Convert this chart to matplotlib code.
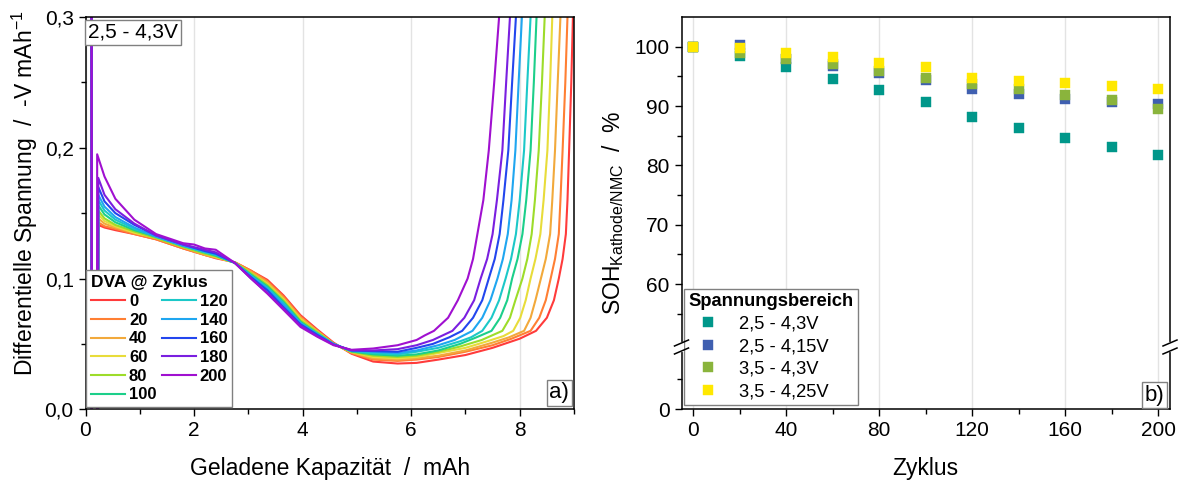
import matplotlib
matplotlib.use("Agg")
import matplotlib.pyplot as plt
from matplotlib.lines import Line2D
from matplotlib.ticker import MultipleLocator, FixedLocator, FuncFormatter
from matplotlib.transforms import Affine2D

plt.rcParams['font.family'] = ['Liberation Sans', 'DejaVu Sans']
plt.rcParams['mathtext.fontset'] = 'custom'
plt.rcParams['mathtext.rm'] = 'Liberation Sans'
plt.rcParams['mathtext.it'] = 'Liberation Sans:italic'

# ---------------- Data: DVA curves (left panel) ----------------
cycles = [0, 20, 40, 60, 80, 100, 120, 140, 160, 180, 200]
dva_colors = ['#ff3b3b', '#ff7f33', '#f2a93b', '#e8dc3a', '#9ddc2a', '#1ccf8a',
              '#1cc8c8', '#1fa6f0', '#2346ee', '#7a1fe0', '#a010d0']

# start spike: x where each curve rises from below the axis to its first peak
spike_start = [0.23, 0.23, 0.23, 0.23, 0.23, 0.23, 0.23, 0.23, 0.23, 0.23, 0.21]
dva_peak = [0.141, 0.143, 0.146, 0.149, 0.152, 0.156, 0.160, 0.164, 0.170, 0.177, 0.195]

# common read positions for the first part of the curves (mAh)
kap_front = [0.35, 0.55, 0.9, 1.3, 1.8, 2.0, 2.2, 2.4, 2.75, 3.05, 3.35, 3.65, 3.96, 4.27, 4.57, 4.9, 5.3, 5.75, 6.1]
dva_front_c0 = [0.139, 0.137, 0.134, 0.130, 0.123, 0.1205, 0.118, 0.1155, 0.1125, 0.106, 0.099, 0.087, 0.072, 0.061, 0.051, 0.0425, 0.0365, 0.035, 0.0355]
dva_front_c20 = [0.140, 0.138, 0.134, 0.130, 0.123, 0.1205, 0.118, 0.116, 0.1125, 0.106, 0.098, 0.086, 0.071, 0.060, 0.0505, 0.043, 0.038, 0.037, 0.038]
dva_front_c40 = [0.142, 0.139, 0.135, 0.131, 0.124, 0.121, 0.118, 0.116, 0.1123, 0.105, 0.097, 0.085, 0.070, 0.060, 0.050, 0.0435, 0.039, 0.038, 0.039]
dva_front_c60 = [0.144, 0.140, 0.135, 0.131, 0.124, 0.1215, 0.119, 0.1165, 0.1122, 0.104, 0.096, 0.084, 0.069, 0.059, 0.050, 0.0438, 0.040, 0.039, 0.040]
dva_front_c80 = [0.146, 0.141, 0.136, 0.131, 0.124, 0.1215, 0.119, 0.117, 0.1121, 0.104, 0.095, 0.083, 0.068, 0.059, 0.050, 0.044, 0.041, 0.040, 0.041]
dva_front_c100 = [0.149, 0.143, 0.137, 0.132, 0.125, 0.1225, 0.120, 0.1175, 0.112, 0.103, 0.094, 0.082, 0.067, 0.058, 0.050, 0.0443, 0.042, 0.041, 0.042]
dva_front_c120 = [0.152, 0.145, 0.138, 0.132, 0.125, 0.1225, 0.120, 0.118, 0.112, 0.102, 0.093, 0.081, 0.066, 0.058, 0.050, 0.0446, 0.043, 0.042, 0.044]
dva_front_c140 = [0.155, 0.147, 0.139, 0.132, 0.125, 0.123, 0.121, 0.1185, 0.112, 0.102, 0.092, 0.080, 0.066, 0.057, 0.050, 0.0448, 0.044, 0.043, 0.045]
dva_front_c160 = [0.159, 0.150, 0.141, 0.133, 0.126, 0.1235, 0.121, 0.119, 0.112, 0.101, 0.091, 0.078, 0.065, 0.057, 0.0495, 0.045, 0.0445, 0.044, 0.047]
dva_front_c180 = [0.164, 0.153, 0.142, 0.133, 0.126, 0.124, 0.122, 0.120, 0.112, 0.100, 0.089, 0.077, 0.064, 0.056, 0.0495, 0.0452, 0.045, 0.046, 0.049]
dva_front_c200 = [0.178, 0.161, 0.145, 0.134, 0.127, 0.126, 0.123, 0.122, 0.112, 0.100, 0.0885, 0.076, 0.063, 0.0555, 0.049, 0.0455, 0.0465, 0.049, 0.053]

# low, slowly rising part after 6.1 mAh (per curve)
kap_low_c0 = [6.5, 7.0, 7.5, 8.0]
dva_low_c0 = [0.038, 0.0415, 0.047, 0.054]
kap_low_c20 = [6.5, 7.0, 7.5, 7.85]
dva_low_c20 = [0.040, 0.044, 0.049, 0.054]
kap_low_c40 = [6.5, 7.0, 7.5, 7.8]
dva_low_c40 = [0.041, 0.045, 0.051, 0.055]
kap_low_c60 = [6.5, 7.0, 7.4, 7.7]
dva_low_c60 = [0.043, 0.047, 0.052, 0.056]
kap_low_c80 = [6.5, 6.9, 7.3]
dva_low_c80 = [0.044, 0.048, 0.053]
kap_low_c100 = [6.5, 6.9, 7.2]
dva_low_c100 = [0.045, 0.050, 0.055]
kap_low_c120 = [6.5, 6.9, 7.1]
dva_low_c120 = [0.047, 0.052, 0.055]
kap_low_c140 = [6.5, 6.8]
dva_low_c140 = [0.049, 0.053]
kap_low_c160 = [6.4, 6.7]
dva_low_c160 = [0.050, 0.055]
kap_low_c180 = [6.4]
dva_low_c180 = [0.053]
kap_low_c200 = [6.25]
dva_low_c200 = [0.0565]

# steep end rise: capacity at which each curve reaches these DVA levels
dva_rise = [0.060, 0.070, 0.0834, 0.100, 0.115, 0.134, 0.160, 0.198, 0.250, 0.300, 0.360]
kap_rise_c0 = [8.30, 8.50, 8.63, 8.72, 8.79, 8.85, 8.88, 8.91, 8.95, 8.98, 9.02]
kap_rise_c20 = [8.20, 8.36, 8.48, 8.57, 8.65, 8.72, 8.75, 8.79, 8.84, 8.88, 8.92]
kap_rise_c40 = [8.08, 8.20, 8.29, 8.39, 8.48, 8.56, 8.60, 8.65, 8.70, 8.75, 8.79]
kap_rise_c60 = [7.88, 8.01, 8.11, 8.20, 8.29, 8.38, 8.44, 8.51, 8.56, 8.60, 8.64]
kap_rise_c80 = [7.68, 7.82, 7.92, 8.05, 8.14, 8.22, 8.28, 8.35, 8.41, 8.46, 8.50]
kap_rise_c100 = [7.48, 7.64, 7.77, 7.86, 7.96, 8.05, 8.12, 8.20, 8.26, 8.31, 8.35]
kap_rise_c120 = [7.31, 7.48, 7.62, 7.74, 7.84, 7.93, 8.00, 8.08, 8.14, 8.20, 8.24]
kap_rise_c140 = [7.13, 7.31, 7.46, 7.59, 7.69, 7.78, 7.85, 7.92, 7.98, 8.04, 8.08]
kap_rise_c160 = [6.94, 7.14, 7.31, 7.43, 7.54, 7.63, 7.70, 7.79, 7.86, 7.93, 7.97]
kap_rise_c180 = [6.76, 6.98, 7.16, 7.28, 7.40, 7.50, 7.58, 7.68, 7.75, 7.82, 7.86]
kap_rise_c200 = [6.42, 6.68, 6.86, 7.04, 7.14, 7.22, 7.33, 7.43, 7.53, 7.62, 7.66]

dva_fronts = [dva_front_c0, dva_front_c20, dva_front_c40, dva_front_c60, dva_front_c80, dva_front_c100,
              dva_front_c120, dva_front_c140, dva_front_c160, dva_front_c180, dva_front_c200]
kap_lows = [kap_low_c0, kap_low_c20, kap_low_c40, kap_low_c60, kap_low_c80, kap_low_c100,
            kap_low_c120, kap_low_c140, kap_low_c160, kap_low_c180, kap_low_c200]
dva_lows = [dva_low_c0, dva_low_c20, dva_low_c40, dva_low_c60, dva_low_c80, dva_low_c100,
            dva_low_c120, dva_low_c140, dva_low_c160, dva_low_c180, dva_low_c200]
kap_rises = [kap_rise_c0, kap_rise_c20, kap_rise_c40, kap_rise_c60, kap_rise_c80, kap_rise_c100,
             kap_rise_c120, kap_rise_c140, kap_rise_c160, kap_rise_c180, kap_rise_c200]

# ---------------- Data: SOH (right panel) ----------------
zyklus = [0, 20, 40, 60, 80, 100, 120, 140, 160, 180, 200]
soh_25_43 = [100, 98.4, 96.5, 94.6, 92.7, 90.7, 88.1, 86.3, 84.6, 83.1, 81.8]
soh_25_415 = [100, 100.2, 98.0, 96.8, 95.5, 94.4, 92.8, 92.0, 91.2, 90.6, 90.3]
soh_35_43 = [100, 99.0, 98.0, 97.0, 95.9, 94.8, 93.7, 92.9, 91.9, 91.0, 89.5]
soh_35_425 = [100, 99.7, 99.0, 98.2, 97.3, 96.5, 94.8, 94.2, 93.8, 93.3, 92.9]
soh_labels = ['2,5 - 4,3V', '2,5 - 4,15V', '3,5 - 4,3V', '3,5 - 4,25V']
soh_colors = ['#00978a', '#3f5fb0', '#8ab43c', '#ffe800']

W, H = 1185, 487
fig = plt.figure(figsize=(W / 100, H / 100), dpi=100)

def comma(fmt):
    return FuncFormatter(lambda v, p: (fmt % v).replace('.', ','))

def style_ticks(ax):
    ax.tick_params(which='both', direction='out', top=False, right=False, labelsize=15, colors='black')
    ax.tick_params(which='major', length=5, width=1)
    ax.tick_params(which='minor', length=3.5, width=1)
    for s in ax.spines.values():
        s.set_linewidth(1.1)

# ---------------- Left panel ----------------
ax1 = fig.add_axes([85.5 / W, 1 - 409.3 / H, 488.5 / W, 392.3 / H])
for i, cyc in enumerate(cycles):
    xs = [0.11, 0.115, spike_start[i], spike_start[i] + 0.005] + kap_front + kap_lows[i] + kap_rises[i]
    ys = [0.45, -0.02, -0.02, dva_peak[i]] + dva_fronts[i] + dva_lows[i] + dva_rise
    ax1.plot(xs, ys, color=dva_colors[i], lw=1.5, label=str(cyc))
ax1.set_xlim(0, 9)
ax1.set_ylim(0, 0.3)
ax1.xaxis.set_major_locator(MultipleLocator(2))
ax1.xaxis.set_minor_locator(MultipleLocator(1))
ax1.yaxis.set_major_locator(MultipleLocator(0.1))
ax1.yaxis.set_minor_locator(MultipleLocator(0.05))
ax1.yaxis.set_major_formatter(comma('%.1f'))
ax1.grid(axis='x', which='major', color='#e3e3e3', lw=1)
ax1.set_axisbelow(True)
style_ticks(ax1)

leg1 = ax1.legend(ncol=2, title='DVA @ Zyklus', loc='lower left',
                  bbox_to_anchor=(0.002, 0.005), borderaxespad=0,
                  prop={'weight': 'bold', 'size': 12},
                  title_fontproperties={'weight': 'bold', 'size': 12.5},
                  alignment='left', fancybox=False, edgecolor='#808080', framealpha=1,
                  handlelength=2.0, handletextpad=0.25, columnspacing=0.35,
                  labelspacing=0.22, borderpad=0.3)
leg1.get_frame().set_linewidth(1.0)

ax1.text(0.006, 0.985, '2,5 - 4,3V', transform=ax1.transAxes, ha='left', va='top', fontsize=15,
         bbox=dict(boxstyle='square,pad=0.15', fc='white', ec='#808080', lw=1), zorder=5)
ax1.text(0.99, 0.015, 'a)', transform=ax1.transAxes, ha='right', va='bottom', fontsize=16,
         bbox=dict(boxstyle='square,pad=0.12', fc='white', ec='#808080', lw=1), zorder=5)

fig.text(40 / W, 1 - 193 / H, 'Differentielle Spannung  /  -V mAh$^{-1}$', rotation=90,
         ha='right', va='center', fontsize=16.5)
fig.text(330 / W, 1 - 468 / H, 'Geladene Kapazität  /  mAh', ha='center', va='center', fontsize=16.5)

# ---------------- Right panel (broken axis) ----------------
rl, rw = 681.5 / W, 488.5 / W
y_break = 347.0
ax_lo = fig.add_axes([rl, 1 - 409.3 / H, rw, (409.3 - y_break) / H])
ax_hi = fig.add_axes([rl, 1 - y_break / H, rw, (y_break - 17.0) / H])
ax_hi.set_zorder(2)
ax_lo.set_zorder(1)
ax_hi.patch.set_alpha(0)

series = [soh_25_43, soh_25_415, soh_35_43, soh_35_425]
for ax in (ax_lo, ax_hi):
    for vals, col, lab in zip(series, soh_colors, soh_labels):
        ax.plot(zyklus, vals, ls='none', marker='s', ms=7, mfc=col, mec=col, mew=0.3, label=lab)
    ax.set_xlim(-5, 205)
    ax.xaxis.set_major_locator(MultipleLocator(40))
    ax.xaxis.set_minor_locator(MultipleLocator(20))
    ax.grid(axis='x', which='major', color='#e3e3e3', lw=1)
    ax.set_axisbelow(True)
    style_ticks(ax)

ax_hi.set_ylim(49.4, 105)
ax_hi.yaxis.set_major_locator(FixedLocator([60, 70, 80, 90, 100]))
ax_hi.yaxis.set_minor_locator(FixedLocator([55, 65, 75, 85, 95]))
ax_hi.spines['bottom'].set_visible(False)
ax_hi.tick_params(axis='x', which='both', bottom=False, labelbottom=False)

ax_lo.set_ylim(0, 10.45)
ax_lo.yaxis.set_major_locator(FixedLocator([0]))
ax_lo.yaxis.set_minor_locator(FixedLocator([5]))
ax_lo.spines['top'].set_visible(False)

leg2 = ax_hi.legend(title='Spannungsbereich', loc='lower left',
                    bbox_to_anchor=(683.5 / W, 1 - 405 / H), bbox_transform=fig.transFigure,
                    borderaxespad=0, prop={'size': 13.2},
                    title_fontproperties={'weight': 'bold', 'size': 13.2},
                    alignment='left', fancybox=False, edgecolor='#808080', framealpha=1,
                    handlelength=2.2, handletextpad=0.6, labelspacing=0.3, borderpad=0.25)
leg2.get_frame().set_linewidth(1.0)

ax_lo.text(0.988, 0.06, 'b)', transform=ax_lo.transAxes, ha='right', va='bottom', fontsize=16,
           bbox=dict(boxstyle='square,pad=0.12', fc='white', ec='#808080', lw=1), zorder=5)

# break marks
pix = Affine2D().scale(1 / W, 1 / H) + fig.transFigure
yb = H - y_break
for xb in (681.5, 1170.0):
    fig.add_artist(Line2D([xb, xb], [yb - 3, yb + 3], transform=pix, color='white', lw=3, zorder=10))
    fig.add_artist(Line2D([xb - 7, xb + 7], [yb - 7, yb - 1], transform=pix, color='black', lw=1.1, zorder=11))
    fig.add_artist(Line2D([xb - 7, xb + 7], [yb + 1, yb + 7], transform=pix, color='black', lw=1.1, zorder=11))

fig.text(626 / W, 1 - 213 / H, 'SOH$_{\\mathrm{Kathode/NMC}}$  /  %', rotation=90,
         ha='right', va='center', fontsize=16.5)
fig.text((681.5 + 1170) / 2 / W, 1 - 468 / H, 'Zyklus', ha='center', va='center', fontsize=16.5)

fig.savefig('out.png', dpi=100)
